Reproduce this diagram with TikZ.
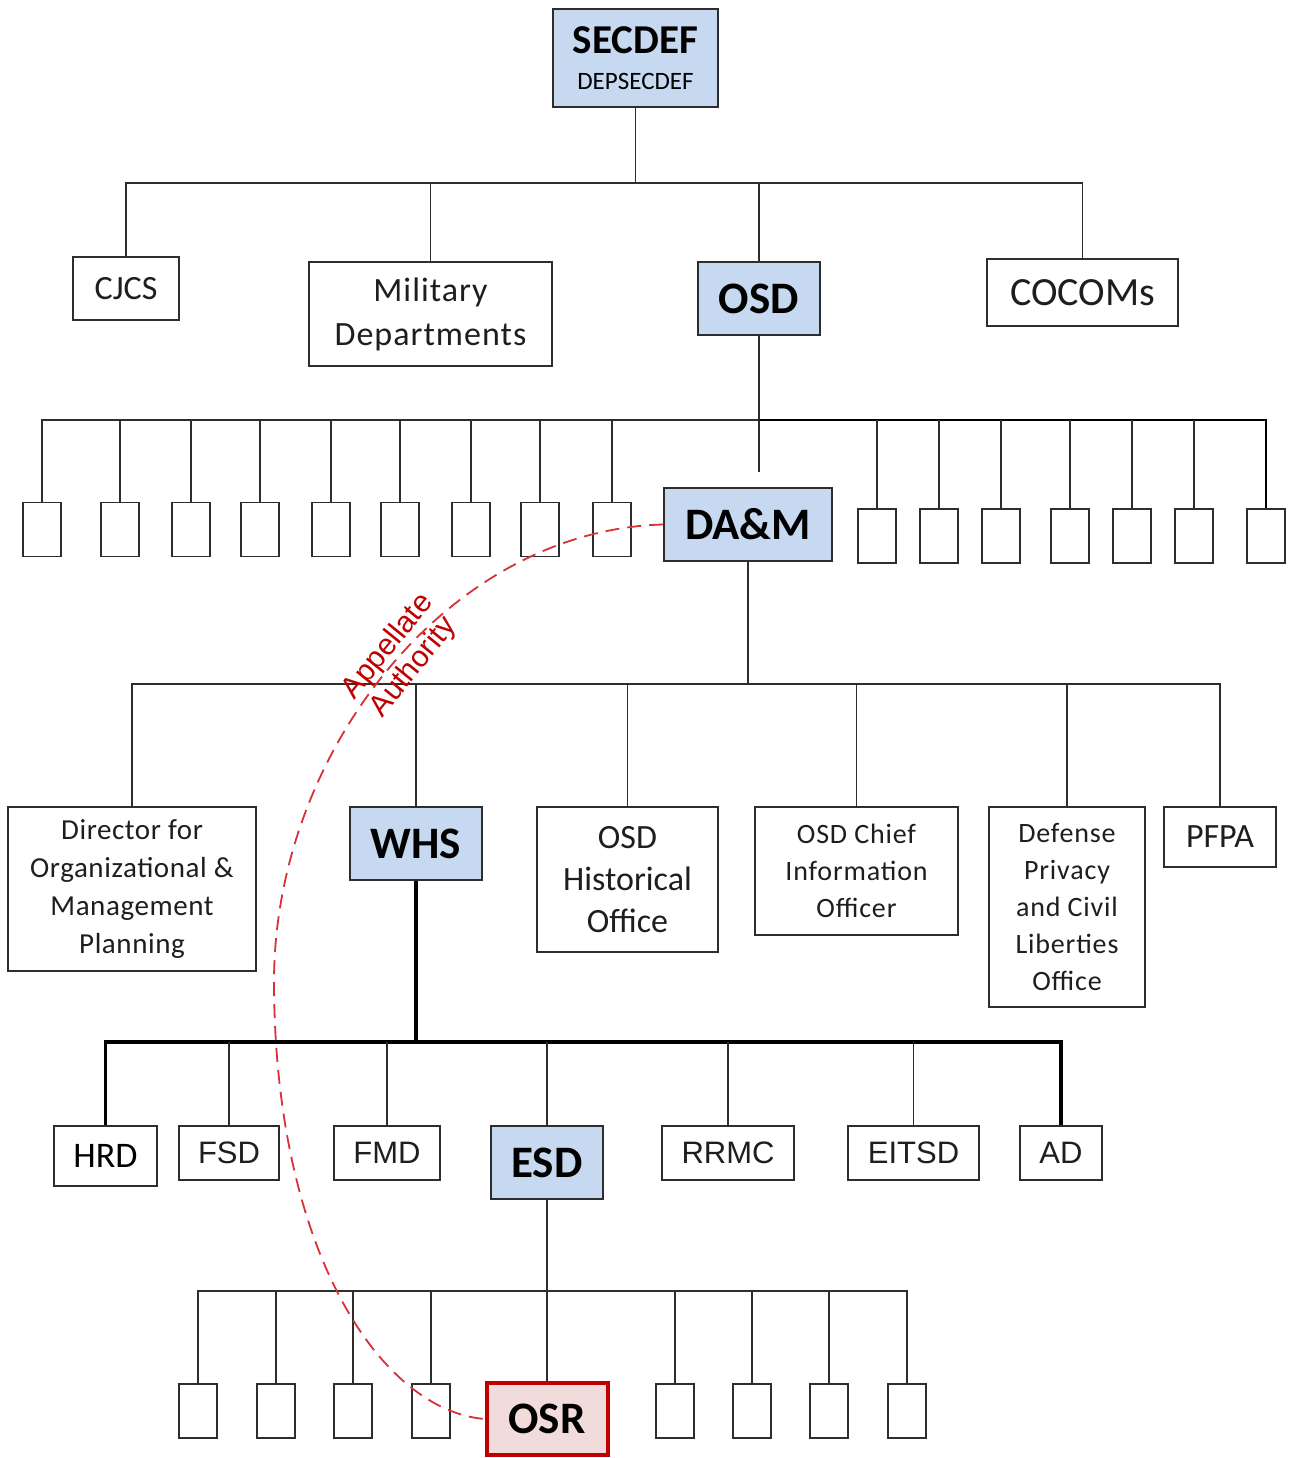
\documentclass[tikz,border=0pt]{standalone}
\usepackage{fontspec}
\setmainfont{Carlito}
\newfontfamily\arialfont{Liberation Sans}
\newcommand\fsz[2]{\fontsize{#1}{#2}\selectfont}
\definecolor{linecol}{RGB}{45,45,45}
\definecolor{txtcol}{RGB}{30,30,30}
\definecolor{bluefill}{RGB}{198,217,241}
\definecolor{pinkfill}{RGB}{242,220,219}
\definecolor{osrred}{RGB}{192,0,0}
\definecolor{dashred}{RGB}{214,50,56}
\begin{document}
\begin{tikzpicture}[x=1pt,y=-1pt,
  line/.style={draw=linecol, line width=1.9pt},
  heavyline/.style={draw=black, line width=3.2pt},
  midline/.style={draw=black, line width=2.6pt},
  box/.style={draw=linecol, line width=1.8pt, fill=white, inner sep=0pt, align=center, text=txtcol},
  bluebox/.style={box, fill=bluefill, text=black, font=\fsz{45}{48}\bfseries},
  smallbox/.style={box, minimum width=38, minimum height=54},
  osrbox/.style={box, draw=osrred, line width=4pt, fill=pinkfill, text=black, font=\fsz{45}{48}\bfseries},
  arialtxt/.style={font=\arialfont\fsz{31}{34}},
  dashedred/.style={draw=dashred, line width=1.8pt, dash pattern=on 14pt off 8pt}
]
\useasboundingbox[fill=white] (0,0) rectangle (1289,1458);

% ---------- level 0 ----------
\node[box, fill=bluefill, text=black, minimum width=165, minimum height=98] (secdef) at (635.5,58)
  {{\fsz{41}{42}\bfseries SECDEF}\\[19pt]{\fsz{25}{26}DEPSECDEF}};

% ---------- level 1 ----------
\node[box, minimum width=106, minimum height=63, font=\fsz{34}{38}] (cjcs) at (126,288.5) {CJCS};
\node[box, minimum width=243, minimum height=104, font=\fsz{34}{44}\addfontfeature{LetterSpace=3}] (mil) at (430.5,314) {Military\\Departments};
\node[bluebox, minimum width=122, minimum height=73] (osd) at (759,298.5) {OSD};
\node[box, minimum width=191, minimum height=67, font=\fsz{40}{44}] (cocoms) at (1082.5,292.5) {COCOMs};

\coordinate (b1) at (635.5,183);
\draw[line] (secdef.south) -- (b1);
\draw[line] (cjcs.north) |- (b1) -| (cocoms.north);
\draw[line] (mil.north) -- (mil.north |- b1);
\draw[line] (osd.north) -- (osd.north |- b1);

% ---------- level 2 ----------
\node[bluebox, minimum width=168, minimum height=73] (dam) at (748,524.5) {DA\&M};
\foreach \x [count=\i] in {42,120,191,260,331,400,471,540,612}
  \node[smallbox] (l\i) at (\x,529.5) {};
\foreach \x [count=\i] in {877,939,1001,1070,1132,1194,1266}
  \node[smallbox] (r\i) at (\x,536) {};

\coordinate (b2) at (759,420);
\coordinate (stub) at (759,472);
\draw[line] (osd.south) -- (b2);
\draw[line] (l1.north) |- (b2);
\draw[midline] (b2) -| (r7.north);
\draw[line] (b2) -- (stub);
\foreach \i in {2,...,9} \draw[line] (l\i.north) -- (l\i.north |- b2);
\foreach \i in {1,...,6} \draw[line] (r\i.north) -- (r\i.north |- b2);

% ---------- level 3 ----------
\node[box, minimum width=248, minimum height=164, font=\fsz{29}{37.7}\addfontfeature{LetterSpace=2}] (dir) at (132,889)
  {Director for\\Organizational \&\\Management\\Planning};
\node[bluebox, minimum width=132, minimum height=73] (whs) at (416,843.5) {WHS};
\node[box, minimum width=181, minimum height=145, font=\fsz{34}{42}] (hist) at (627.5,879.5) {OSD\\Historical\\Office};
\node[box, minimum width=203, minimum height=128, font=\fsz{28}{37}\addfontfeature{LetterSpace=3}] (cio) at (856.5,871)
  {OSD Chief\\Information\\Officer};
\node[box, minimum width=156, minimum height=200, font=\fsz{28}{37}\addfontfeature{LetterSpace=3}] (priv) at (1067,907)
  {Defense\\Privacy\\and Civil\\Liberties\\Office};
\node[box, minimum width=112, minimum height=60, font=\fsz{34}{38}] (pfpa) at (1220,837) {PFPA};

\coordinate (b3) at (748,684);
\draw[line] (dam.south) -- (b3);
\draw[line] (dir.north) |- (b3) -| (pfpa.north);
\draw[line] (whs.north) -- (whs.north |- b3);
\draw[line] (hist.north) -- (hist.north |- b3);
\draw[line] (cio.north) -- (cio.north |- b3);
\draw[line] (priv.north) -- (priv.north |- b3);

% ---------- level 4 ----------
\node[box, minimum width=103, minimum height=60, font=\fsz{36}{40}, text=black] (hrd) at (105.5,1156) {HRD};
\node[box, minimum width=100, minimum height=54, arialtxt] (fsd) at (229,1153) {FSD};
\node[box, minimum width=106, minimum height=54, arialtxt] (fmd) at (387,1153) {FMD};
\node[bluebox, minimum width=112, minimum height=73] (esd) at (547,1162.5) {ESD};
\node[box, minimum width=132, minimum height=54, arialtxt] (rrmc) at (728,1153) {RRMC};
\node[box, minimum width=131, minimum height=54, arialtxt] (eitsd) at (913.5,1153) {EITSD};
\node[box, minimum width=82, minimum height=54, arialtxt] (ad) at (1061,1153) {AD};

\coordinate (b4) at (416,1042);
\draw[heavyline] (whs.south) -- (b4);
\draw[heavyline] (hrd.north) |- (b4) -| (ad.north);
\draw[line] (fsd.north) -- (fsd.north |- b4);
\draw[line] (fmd.north) -- (fmd.north |- b4);
\draw[line] (esd.north) -- (esd.north |- b4);
\draw[line] (rrmc.north) -- (rrmc.north |- b4);
\draw[line] (eitsd.north) -- (eitsd.north |- b4);

% ---------- level 5 ----------
\node[osrbox, minimum width=121, minimum height=72] (osr) at (547,1419) {OSR};
\foreach \x [count=\i] in {198,276,353,431,675,752,829,907}
  \node[smallbox] (t\i) at (\x,1411) {};

\coordinate (b5) at (547,1291);
\draw[line] (esd.south) -- (osr.north);
\draw[line] (t1.north) |- (b5) -| (t8.north);
\foreach \i in {2,...,7} \draw[line] (t\i.north) -- (t\i.north |- b5);

% ---------- appellate authority ----------
\draw[dashedred] (dam.west) .. controls (450,530) and (275,750) .. (274,980)
  .. controls (274,1250) and (380,1410) .. (osr.west);
\node[rotate=51, text=osrred, align=center, font=\arialfont\fsz{30}{33}] (appellate) at (401,657) {Appellate\\Authority};

\end{tikzpicture}
\end{document}
